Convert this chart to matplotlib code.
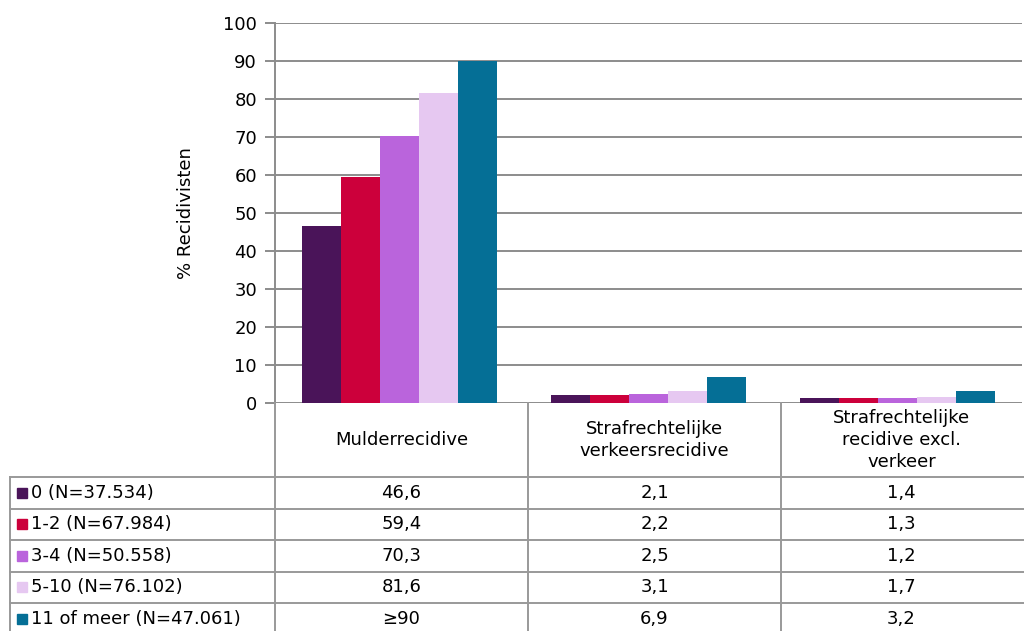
import matplotlib
matplotlib.use("Agg")
import matplotlib.pyplot as plt
from matplotlib.patches import Rectangle
from matplotlib.lines import Line2D
import numpy as np

plt.rcParams["font.family"] = ["DejaVu Sans"]

categories = ["Mulderrecidive", "Strafrechtelijke\nverkeersrecidive", "Strafrechtelijke\nrecidive excl.\nverkeer"]
series_labels = ["0 (N=37.534)", "1-2 (N=67.984)", "3-4 (N=50.558)", "5-10 (N=76.102)", "11 of meer (N=47.061)"]
values = [
    [46.6, 2.1, 1.4],
    [59.4, 2.2, 1.3],
    [70.3, 2.5, 1.2],
    [81.6, 3.1, 1.7],
    [90.0, 6.9, 3.2],
]
table_text = [
    ["46,6", "2,1", "1,4"],
    ["59,4", "2,2", "1,3"],
    ["70,3", "2,5", "1,2"],
    ["81,6", "3,1", "1,7"],
    ["\u226590", "6,9", "3,2"],
]
colors = ["#4a1459", "#cc003b", "#ba64dc", "#e6c8f1", "#056f96"]
yticks = list(range(0, 101, 10))

W, H = 1024, 631
fig = plt.figure(figsize=(W / 100, H / 100), dpi=100)
fs = 13
grid_c = "#8c8c8c"
tab_c = "#999999"

def fx(px):
    return px / W

def fy(py):
    return 1 - py / H

x0, x1 = 275, 1022
y_top, y_bot = 23, 403
ax = fig.add_axes([fx(x0), fy(y_bot), fx(x1) - fx(x0), fy(y_top) - fy(y_bot)])
n_cat = len(categories)
n_ser = len(series_labels)
bw = 0.78 / n_ser
xc = np.arange(n_cat)
for i in range(n_ser):
    ax.bar(xc - 0.39 + bw * (i + 0.5), values[i], width=bw, color=colors[i], zorder=3, linewidth=0)
ax.set_xlim(-0.5, n_cat - 0.5)
ax.set_ylim(0, 100)
ax.set_yticks(yticks)
ax.set_yticklabels([str(t) for t in yticks], fontsize=fs, color="#000000")
ax.tick_params(axis="y", length=7, width=1.4, color=grid_c, pad=6)
ax.tick_params(axis="x", length=0, labelbottom=False)
ax.grid(axis="y", color=grid_c, linewidth=1.4, zorder=0)
for s in ["top", "right", "bottom"]:
    ax.spines[s].set_visible(False)
ax.spines["left"].set_color(grid_c)
ax.spines["left"].set_linewidth(1.4)
ax.set_ylabel("% Recidivisten", fontsize=fs, labelpad=20)

# table
col_x = [275, 528, 781, 1022]
row_y = [403, 477, 508.5, 540, 571.5, 603, 634.5]
left_x = 10

def hline(xa, xb, y):
    fig.add_artist(Line2D([fx(xa), fx(xb)], [fy(y), fy(y)], color=tab_c, linewidth=1.4))

def vline(x, ya, yb):
    fig.add_artist(Line2D([fx(x), fx(x)], [fy(ya), fy(yb)], color=tab_c, linewidth=1.4))

for r in range(1, len(row_y)):
    hline(left_x, W, row_y[r])
vline(left_x, row_y[1], row_y[-1])
vline(col_x[0], y_bot, row_y[-1])
for c in col_x[1:3]:
    vline(c, y_bot, row_y[-1])

for j, cat in enumerate(categories):
    cx = (col_x[j] + col_x[j + 1]) / 2
    cy = (row_y[0] + row_y[1]) / 2
    fig.text(fx(cx), fy(cy), cat, ha="center", va="center", fontsize=fs, linespacing=1.3)

for i in range(n_ser):
    cy = (row_y[i + 1] + row_y[i + 2]) / 2
    fig.add_artist(Rectangle((fx(17), fy(cy + 5)), fx(10), 10 / H, color=colors[i], transform=fig.transFigure))
    fig.text(fx(31), fy(cy), series_labels[i], ha="left", va="center", fontsize=fs)
    for j in range(n_cat):
        cx = (col_x[j] + col_x[j + 1]) / 2
        fig.text(fx(cx), fy(cy), table_text[i][j], ha="center", va="center", fontsize=fs)

fig.savefig("out.png", dpi=100)
